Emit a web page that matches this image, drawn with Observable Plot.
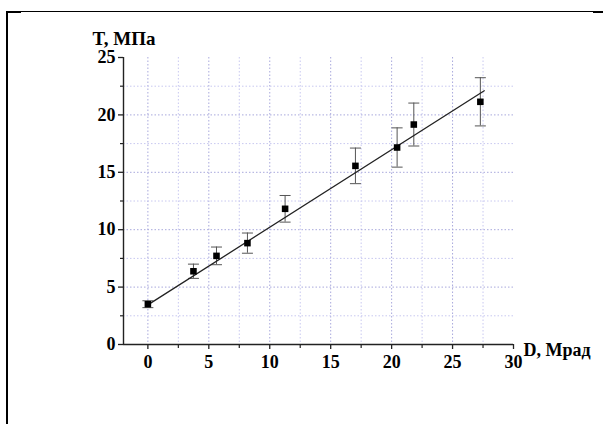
<!DOCTYPE html>
<html>
<head>
<meta charset="utf-8">
<script src="https://cdn.jsdelivr.net/npm/d3@7"></script>
<script src="https://cdn.jsdelivr.net/npm/@observablehq/plot@0.6"></script>
<style>
  html, body { margin: 0; padding: 0; background: #fff; }
  #wrap { position: relative; width: 603px; height: 424px; overflow: hidden; }
  #chart { position: absolute; left: 0; top: 0; }
  .frame { position: absolute; left: 6px; top: 11px; right: 0; bottom: -2px; border-top: 1px solid #000; border-left: 2px solid #000; }
  .seg { position: absolute; background: #000; height: 2px; }
</style>
</head>
<body>
<div id="wrap">
  <div class="frame"></div>
  <div class="seg" style="left:6px; top:11px; width:15px;"></div>
  <div class="seg" style="left:593px; top:11px; width:10px;"></div>
  <div id="chart"></div>
</div>
<script>
// Data
const xValues = [0, 3.74, 5.63, 8.17, 11.26, 17.03, 20.45, 21.82, 27.28];
const yValues = [3.51, 6.38, 7.72, 8.83, 11.82, 15.56, 17.16, 19.16, 21.14];
const yErrors = [0.3, 0.62, 0.77, 0.88, 1.16, 1.55, 1.71, 1.87, 2.1];

// Fitted line endpoints
const fitX = [0, 27.6];
const fitY = [3.45, 22.1];

// Axis ticks
const xDomain = [-2, 30];
const yDomain = [0, 25];
const xMajor = [0, 5, 10, 15, 20, 25, 30];
const xMinor = [2.5, 7.5, 12.5, 17.5, 22.5, 27.5];
const yMajor = [0, 5, 10, 15, 20, 25];
const yMinor = [2.5, 7.5, 12.5, 17.5, 22.5];
const xGridMajor = [0, 5, 10, 15, 20, 25];
const yGridMajor = [5, 10, 15, 20];

const xLabel = "D, Мрад";
const yLabel = "T, МПа";

const points = xValues.map((x, i) => ({
  x, y: yValues[i], lo: yValues[i] - yErrors[i], hi: yValues[i] + yErrors[i]
}));
const fit = fitX.map((x, i) => ({x, y: fitY[i]}));

const capSymbol = {
  draw(ctx, size) {
    const w = Math.sqrt(size / Math.PI);
    ctx.moveTo(-w, 0);
    ctx.lineTo(w, 0);
  }
};

const gridMinor = "#c8c8f0";
const gridMajor = "#a8a8dc";
const axisColor = "#222";

const chart = Plot.plot({
  width: 603,
  height: 424,
  marginLeft: 123,
  marginRight: 90,
  marginTop: 57,
  marginBottom: 80,
  x: {domain: xDomain},
  y: {domain: yDomain},
  style: {
    fontFamily: "'Liberation Serif', 'Times New Roman', serif",
    fontSize: "18px",
    fontWeight: "bold",
    color: "#000",
    background: "transparent",
    overflow: "visible"
  },
  marks: [
    Plot.gridX(xMinor, {stroke: gridMinor, strokeOpacity: 1, strokeDasharray: "1.5,2"}),
    Plot.gridX(xGridMajor, {stroke: gridMajor, strokeOpacity: 1, strokeDasharray: "1.5,2"}),
    Plot.gridY(yMinor, {stroke: gridMinor, strokeOpacity: 1, strokeDasharray: "1.5,2"}),
    Plot.gridY(yGridMajor, {stroke: gridMajor, strokeOpacity: 1, strokeDasharray: "1.5,2"}),
    Plot.ruleY([yDomain[0]], {stroke: axisColor, strokeWidth: 1.4}),
    Plot.ruleX([xDomain[0]], {stroke: axisColor, strokeWidth: 1.4}),
    Plot.axisX(xMajor, {tickSize: 5, tickPadding: 6, label: null, stroke: axisColor, strokeWidth: 1.3, tickFormat: d => String(d)}),
    Plot.axisX(xMinor, {tickSize: 4, label: null, stroke: axisColor, strokeWidth: 1.2, tickFormat: () => ""}),
    Plot.axisY(yMajor, {tickSize: 5, tickPadding: 3, label: null, stroke: axisColor, strokeWidth: 1.3, tickFormat: d => String(d)}),
    Plot.axisY(yMinor, {tickSize: 3, label: null, stroke: axisColor, strokeWidth: 1.2, tickFormat: () => ""}),
    Plot.ruleX(points, {x: "x", y1: "lo", y2: "hi", stroke: "#555", strokeWidth: 1}),
    Plot.dot(points, {x: "x", y: "hi", symbol: capSymbol, r: 5.5, fill: "none", stroke: "#555", strokeWidth: 1}),
    Plot.dot(points, {x: "x", y: "lo", symbol: capSymbol, r: 5.5, fill: "none", stroke: "#555", strokeWidth: 1}),
    Plot.line(fit, {x: "x", y: "y", stroke: "#222", strokeWidth: 1.3}),
    Plot.dot(points, {x: "x", y: "y", symbol: "square", r: 3.7, fill: "#000", stroke: "none"}),
    Plot.text([yLabel], {frameAnchor: "top-left", text: d => d, textAnchor: "start", lineAnchor: "bottom", dx: -31, dy: -13, fontSize: 19, fontWeight: "bold", fill: "#000"}),
    Plot.text([xLabel], {frameAnchor: "bottom-right", text: d => d, textAnchor: "start", lineAnchor: "bottom", dx: 10, dy: 11, fontSize: 18, fontWeight: "bold", fill: "#000"})
  ]
});
document.getElementById("chart").appendChild(chart);
</script>
</body>
</html>
